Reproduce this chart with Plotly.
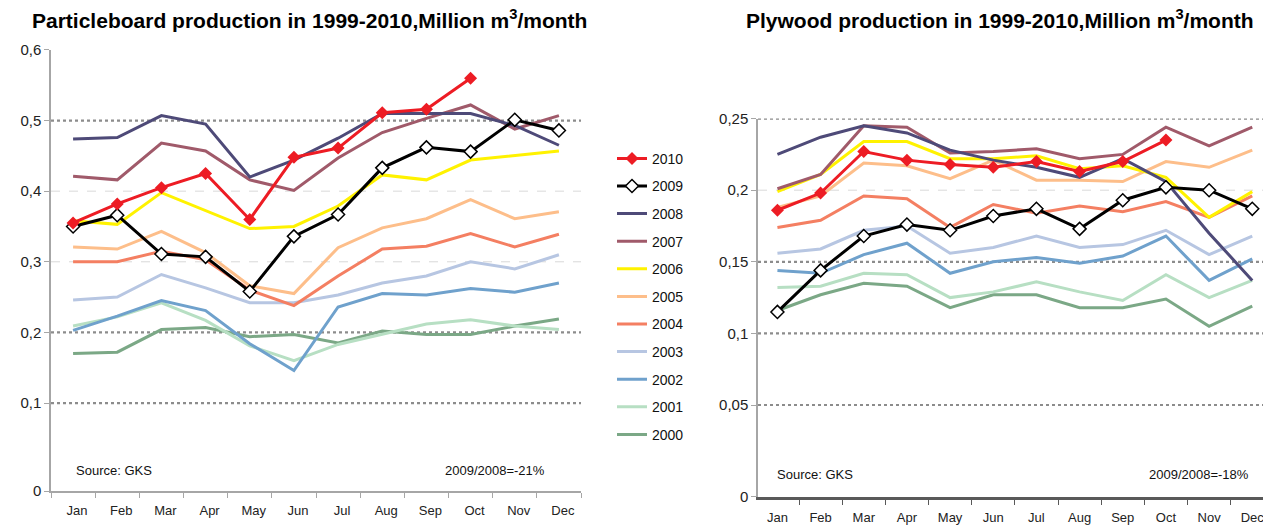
"""
Particleboard and plywood production, 1999-2010 (million m3 per month).
"""
import plotly.graph_objects as go

MONTHS = ["Jan", "Feb", "Mar", "Apr", "May", "Jun", "Jul", "Aug", "Sep", "Oct", "Nov", "Dec"]
YEARS = ["2010", "2009", "2008", "2007", "2006", "2005", "2004", "2003", "2002", "2001", "2000"]

# ── Particleboard (left) ──────────────────────────────────────────────────────
pb_2010 = [0.355, 0.382, 0.405, 0.425, 0.360, 0.448, 0.461, 0.511, 0.516, 0.560]
pb_2009 = [0.350, 0.366, 0.311, 0.307, 0.258, 0.336, 0.367, 0.433, 0.462, 0.456, 0.501, 0.486]
pb_2008 = [0.474, 0.476, 0.507, 0.495, 0.420, 0.444, 0.475, 0.510, 0.510, 0.510, 0.493, 0.465]
pb_2007 = [0.421, 0.416, 0.468, 0.457, 0.416, 0.401, 0.447, 0.483, 0.503, 0.522, 0.488, 0.507]
pb_2006 = [0.358, 0.353, 0.398, 0.373, 0.347, 0.350, 0.379, 0.423, 0.416, 0.444, 0.450, 0.457]
pb_2005 = [0.321, 0.318, 0.343, 0.313, 0.266, 0.255, 0.320, 0.348, 0.361, 0.388, 0.361, 0.371]
pb_2004 = [0.300, 0.300, 0.315, 0.303, 0.260, 0.238, 0.280, 0.318, 0.322, 0.340, 0.321, 0.339]
pb_2003 = [0.246, 0.250, 0.282, 0.263, 0.242, 0.242, 0.253, 0.270, 0.280, 0.300, 0.290, 0.310]
pb_2002 = [0.203, 0.223, 0.245, 0.231, 0.184, 0.146, 0.236, 0.255, 0.253, 0.262, 0.257, 0.270]
pb_2001 = [0.209, 0.222, 0.242, 0.217, 0.181, 0.160, 0.183, 0.198, 0.212, 0.218, 0.209, 0.204]
pb_2000 = [0.170, 0.172, 0.204, 0.207, 0.194, 0.197, 0.185, 0.202, 0.197, 0.197, 0.209, 0.219]

# ── Plywood (right) ───────────────────────────────────────────────────────────
pw_2010 = [0.186, 0.198, 0.227, 0.221, 0.218, 0.216, 0.220, 0.213, 0.220, 0.235]
pw_2009 = [0.115, 0.144, 0.168, 0.176, 0.172, 0.182, 0.187, 0.173, 0.193, 0.202, 0.200, 0.187]
pw_2008 = [0.225, 0.237, 0.245, 0.240, 0.228, 0.221, 0.216, 0.209, 0.222, 0.206, 0.170, 0.137]
pw_2007 = [0.201, 0.211, 0.245, 0.244, 0.226, 0.227, 0.229, 0.222, 0.225, 0.244, 0.231, 0.244]
pw_2006 = [0.199, 0.211, 0.234, 0.234, 0.222, 0.222, 0.224, 0.215, 0.217, 0.209, 0.181, 0.199]
pw_2005 = [0.188, 0.196, 0.219, 0.217, 0.208, 0.221, 0.207, 0.207, 0.206, 0.220, 0.216, 0.228]
pw_2004 = [0.174, 0.179, 0.196, 0.194, 0.174, 0.190, 0.184, 0.189, 0.185, 0.192, 0.181, 0.196]
pw_2003 = [0.156, 0.159, 0.172, 0.175, 0.156, 0.160, 0.168, 0.160, 0.162, 0.172, 0.155, 0.168]
pw_2002 = [0.144, 0.142, 0.155, 0.163, 0.142, 0.150, 0.153, 0.149, 0.154, 0.168, 0.137, 0.152]
pw_2001 = [0.132, 0.133, 0.142, 0.141, 0.125, 0.129, 0.136, 0.129, 0.123, 0.141, 0.125, 0.137]
pw_2000 = [0.116, 0.127, 0.135, 0.133, 0.118, 0.127, 0.127, 0.118, 0.118, 0.124, 0.105, 0.119]

PB = [pb_2010, pb_2009, pb_2008, pb_2007, pb_2006, pb_2005, pb_2004, pb_2003, pb_2002, pb_2001, pb_2000]
PW = [pw_2010, pw_2009, pw_2008, pw_2007, pw_2006, pw_2005, pw_2004, pw_2003, pw_2002, pw_2001, pw_2000]

PB_TICKS = [0.1, 0.2, 0.3, 0.4, 0.5, 0.6]
PW_TICKS = [0.05, 0.1, 0.15, 0.2, 0.25]

COLORS = {
    "2010": "#ED1C24", "2009": "#000000", "2008": "#4E4A78", "2007": "#A05A6A",
    "2006": "#FFF200", "2005": "#FDBE8A", "2004": "#F47F62", "2003": "#B7C6E2",
    "2002": "#6FA1CC", "2001": "#B7DFC3", "2000": "#7BA886",
}
FONT = "Liberation Sans, Arial, sans-serif"
DARK_GRID = "#8C8C8C"
LIGHT_GRID = "#D9D9D9"

# the original axes leave a taller gap below the lowest labelled tick
PB_BOTTOM = -0.0247
PW_BOTTOM = -0.0142


def _trace(year, values, xaxis, yaxis, show):
    marker = dict(size=1)
    mode = "lines"
    if year == "2010":
        mode = "lines+markers"
        marker = dict(symbol="diamond", size=10, color=COLORS[year])
    elif year == "2009":
        mode = "lines+markers"
        marker = dict(symbol="diamond", size=10, color="white",
                      line=dict(color="black", width=1.5))
    return go.Scatter(
        x=MONTHS[:len(values)], y=values, name=year, mode=mode,
        line=dict(color=COLORS[year], width=3), marker=marker,
        xaxis=xaxis, yaxis=yaxis, showlegend=show, legendgroup=year,
        legendrank=YEARS.index(year) + 1,
    )


fig = go.Figure()
# draw older years first so 2010/2009 sit on top; legendrank keeps 2010 first
for year, vals in reversed(list(zip(YEARS, PB))):
    fig.add_trace(_trace(year, vals, "x", "y", True))
for year, vals in reversed(list(zip(YEARS, PW))):
    fig.add_trace(_trace(year, vals, "x2", "y2", False))

shapes = []
for v in PB_TICKS[:-1]:
    light = v in (0.3, 0.4)
    shapes.append(dict(type="line", xref="x domain", yref="y", x0=0, x1=1, y0=v, y1=v,
                       layer="below",
                       line=dict(color=LIGHT_GRID if light else DARK_GRID,
                                 width=1 if light else 2.2, dash="dash" if light else "dot")))
for v in PW_TICKS:
    light = v == 0.2
    shapes.append(dict(type="line", xref="x2 domain", yref="y2", x0=0, x1=1, y0=v, y1=v,
                       layer="below",
                       line=dict(color=LIGHT_GRID if light else DARK_GRID,
                                 width=1 if light else 2.2, dash="dash" if light else "dot")))

ann = dict(showarrow=False, font=dict(family=FONT, size=13, color="#111"))
title_font = dict(family=FONT, size=21, color="#000")
annotations = [
    dict(text="<b>Particleboard production in 1999-2010,Million m<sup>3</sup>/month</b>",
         xref="paper", yref="paper", x=301 / 1271, y=1 - 2 / 525, xanchor="center", yanchor="middle",
         showarrow=False, font=title_font),
    dict(text="<b>Plywood production in 1999-2010,Million m<sup>3</sup>/month</b>",
         xref="paper", yref="paper", x=992 / 1271, y=1 - 2 / 525, xanchor="center", yanchor="middle",
         showarrow=False, font=title_font),
    dict(ann, text="Source: GKS", xref="paper", yref="paper", x=66 / 1271, y=1 - 469 / 525,
         xanchor="left", yanchor="middle"),
    dict(ann, text="2009/2008=-21%", xref="paper", yref="paper", x=539 / 1271, y=1 - 469 / 525,
         xanchor="right", yanchor="middle"),
    dict(ann, text="Source: GKS", xref="paper", yref="paper", x=767 / 1271, y=1 - 473 / 525,
         xanchor="left", yanchor="middle"),
    dict(ann, text="2009/2008=-18%", xref="paper", yref="paper", x=1243 / 1271, y=1 - 473 / 525,
         xanchor="right", yanchor="middle"),
]

tickfont = dict(family=FONT, size=13, color="#222")
xbase = dict(type="category", categoryorder="array", categoryarray=MONTHS,
             showgrid=False, zeroline=False, showline=True, ticks="outside",
             tickson="boundaries", ticklen=5, tickfont=tickfont, fixedrange=True,
             ticklabelstandoff=7)
ybase = dict(showgrid=False, zeroline=False, showline=True, linecolor="#A6A6A6", linewidth=1.5,
             ticks="outside", tickcolor="#A6A6A6", ticklen=5, tickfont=dict(tickfont, size=15),
             fixedrange=True)

fig.update_layout(
    width=1271, height=525,
    paper_bgcolor="white", plot_bgcolor="white",
    margin=dict(l=0, r=0, t=0, b=0),
    font=dict(family=FONT, color="#222"),
    showlegend=True,
    legend=dict(x=604 / 1271, y=1 - 130 / 525, xanchor="left", yanchor="top",
                font=dict(family=FONT, size=14, color="#111"), tracegroupgap=6.4,
                bgcolor="rgba(0,0,0,0)", traceorder="grouped"),
    xaxis=dict(xbase, domain=[43 / 1271, 573 / 1271], range=[-0.5, 11.5], anchor="y",
               linecolor="#A6A6A6", linewidth=1.5, tickcolor="#A6A6A6", ticklabelshift=4),
    yaxis=dict(ybase, domain=[1 - 490 / 525, 1 - 34 / 525], range=[PB_BOTTOM, 0.6], anchor="x",
               tickvals=[PB_BOTTOM] + PB_TICKS,
               ticktext=["0"] + [f"{t:g}".replace(".", ",") for t in PB_TICKS]),
    xaxis2=dict(xbase, domain=[750 / 1271, 1268 / 1271], range=[-0.45, 11.55], anchor="y2",
                linecolor="#595959", linewidth=2.5, tickcolor="#595959"),
    yaxis2=dict(ybase, domain=[1 - 496 / 525, 1 - 105 / 525], range=[PW_BOTTOM, 0.25], anchor="x2",
                tickvals=[PW_BOTTOM] + PW_TICKS,
                ticktext=["0"] + [f"{t:g}".replace(".", ",") for t in PW_TICKS]),
    shapes=shapes,
    annotations=annotations,
)

fig.write_html("out.html")
